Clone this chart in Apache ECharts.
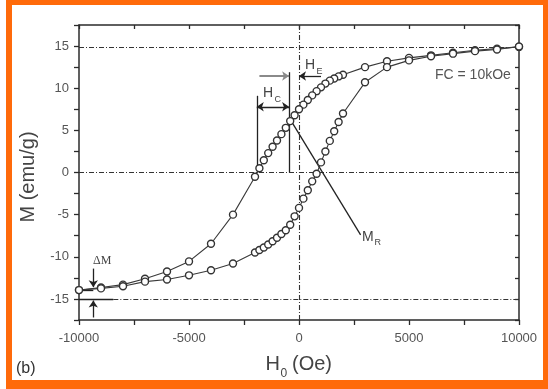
<!DOCTYPE html>
<html>
<head>
<meta charset="utf-8">
<script src="https://cdn.jsdelivr.net/npm/echarts@6/dist/echarts.min.js"></script>
<style>html,body{margin:0;padding:0;background:#fff;}#c{width:548px;height:389px;}</style>
</head>
<body>
<div id="c"></div>
<script>
// Descending branch (field swept from +10 kOe to -10 kOe)
const descH = [10000, 9000, 8000, 7000, 6000, 5000, 4000, 3000,
  2000, 1800, 1600, 1400, 1200, 1000, 800, 600, 400, 200, 0,
  -200, -400, -600, -800, -1000, -1200, -1400, -1600, -1800, -2000,
  -3000, -4000, -5000, -6000, -7000, -8000, -9000, -10000];
const descM = [14.9, 14.7, 14.5, 14.2, 13.9, 13.6, 13.2, 12.5,
  11.6, 11.4, 11.15, 10.9, 10.55, 10.1, 9.65, 9.15, 8.6, 8.05, 7.5,
  6.8, 6.1, 5.3, 4.55, 3.8, 3.05, 2.3, 1.45, 0.5, -0.5,
  -5.0, -8.45, -10.55, -11.75, -12.6, -13.3, -13.65, -13.95];
// Ascending branch (field swept from -10 kOe to +10 kOe)
const ascH = [-10000, -9000, -8000, -7000, -6000, -5000, -4000, -3000,
  -2000, -1800, -1600, -1400, -1200, -1000, -800, -600, -400, -200, 0,
  200, 400, 600, 800, 1000, 1200, 1400, 1600, 1800, 2000,
  3000, 4000, 5000, 6000, 7000, 8000, 9000, 10000];
const ascM = [-13.95, -13.75, -13.5, -12.95, -12.7, -12.2, -11.6, -10.8,
  -9.5, -9.2, -8.9, -8.55, -8.15, -7.75, -7.3, -6.85, -6.2, -5.2, -4.2,
  -3.1, -2.1, -1.05, -0.15, 1.2, 2.5, 3.75, 4.9, 6.0, 7.0,
  10.7, 12.5, 13.3, 13.8, 14.1, 14.4, 14.6, 14.95];

// Axis ticks
const xTicks = [-10000, -5000, 0, 5000, 10000];
const yTicks = [-15, -10, -5, 0, 5, 10, 15];

// Reference (dash-dot) lines
const refY = [14.85, 0];
const refX = [0];
const satLowY = -15;
const satLowSolidEnd = -8440;

// Annotation geometry (data space)
const hcLeftX = -1920, hcLeftTop = 9.1;
const hcRightX = -450, hcRightTop = 11.9;
const hcArrowY = 7.8;
const heArrowY = 11.45, heLeftStart = -1800, heRightStart = 1000, heRightEnd = 0;
const mrStart = [-400, 6.3], mrEnd = [2800, -7.4];
const dmX = -9350, dmTop = [-11.4, -13.6], dmBottom = [-17.2, -15.2], dmLineEnd = -9350, dmLineY = -13.95;

const chart = echarts.init(document.getElementById('c'), null, {renderer: 'canvas'});
const zip = (a, b) => a.map((v, i) => [v, b[i]]);
const FONT = 'Liberation Sans, Arial, sans-serif';
const AX = '#2b2b2b';
const dashDot = [5, 2, 1, 2];

const xMain = {
  type: 'value', min: -10000, max: 10000, interval: 2500, position: 'bottom',
  axisLine: {show: true, onZero: false, lineStyle: {color: AX, width: 1.5}},
  axisTick: {show: true, inside: false, length: 5, lineStyle: {color: AX, width: 1.3}},
  splitLine: {show: false},
  axisLabel: {margin: 12, color: '#555', fontFamily: FONT, fontSize: 13,
    formatter: v => xTicks.indexOf(v) >= 0 ? String(v) : ''}
};
const xTop = {
  type: 'value', min: -10000, max: 10000, interval: 2500, position: 'top',
  axisLine: {show: true, onZero: false, lineStyle: {color: AX, width: 1.5}},
  axisTick: {show: true, inside: true, length: 4, lineStyle: {color: AX, width: 1.3}},
  splitLine: {show: false}, axisLabel: {show: false}
};
const yMain = {
  type: 'value', min: -17.5, max: 17.5, interval: 2.5, position: 'left',
  axisLine: {show: true, onZero: false, lineStyle: {color: AX, width: 1.5}},
  axisTick: {show: true, inside: false, length: 5, lineStyle: {color: AX, width: 1.3}},
  splitLine: {show: false},
  axisLabel: {margin: 10, color: '#555', fontFamily: FONT, fontSize: 13,
    formatter: v => yTicks.indexOf(v) >= 0 ? String(v) : ''}
};
const yRight = {
  type: 'value', min: -17.5, max: 17.5, interval: 2.5, position: 'right',
  axisLine: {show: true, onZero: false, lineStyle: {color: AX, width: 1.5}},
  axisTick: {show: true, inside: true, length: 4, lineStyle: {color: AX, width: 1.3}},
  splitLine: {show: false}, axisLabel: {show: false}
};

const seg = (a, b, startSym, endSym) => [
  {coord: a, symbol: startSym || 'none'},
  {coord: b, symbol: endSym || 'none'}
];

const dataSeriesStyle = {
  type: 'line', xAxisIndex: 0, yAxisIndex: 0,
  symbol: 'circle', symbolSize: 7, showAllSymbol: true,
  itemStyle: {color: '#fff', borderColor: '#333', borderWidth: 1.4},
  lineStyle: {color: '#3a3a3a', width: 1.1},
  animation: false, z: 5
};

const option = {
  backgroundColor: '#fff',
  animation: false,
  grid: {left: 79, right: 29, top: 25, bottom: 69, containLabel: false},
  xAxis: [xMain, xTop],
  yAxis: [yMain, yRight],
  series: [
    // reference dash-dot lines
    {
      type: 'line', data: [], xAxisIndex: 0, yAxisIndex: 0, silent: true,
      markLine: {
        silent: true, symbol: 'none', label: {show: false}, animation: false,
        lineStyle: {color: '#333', width: 1.1, type: dashDot},
        data: [
          ...refY.map(v => ({yAxis: v})),
          ...refX.map(v => ({xAxis: v})),
          seg([satLowSolidEnd, satLowY], [10000, satLowY])
        ]
      }
    },
    // solid annotation lines
    {
      type: 'line', data: [], xAxisIndex: 0, yAxisIndex: 0, silent: true, z: 4,
      markLine: {
        silent: true, symbol: 'none', symbolSize: 7, label: {show: false}, animation: false,
        lineStyle: {color: '#222', width: 1.3, type: 'solid'},
        data: [
          seg([-10000, satLowY], [satLowSolidEnd, satLowY]),
          seg([-10000, dmLineY], [dmLineEnd, dmLineY]),
          seg([hcLeftX, 0], [hcLeftX, hcLeftTop]),
          seg([hcRightX, 0], [hcRightX, hcRightTop]),
          seg([hcLeftX, hcArrowY], [hcRightX, hcArrowY], 'arrow', 'arrow'),
          seg([heRightStart, heArrowY], [heRightEnd, heArrowY], 'none', 'arrow'),
          seg(mrStart, mrEnd),
          seg([dmX, dmTop[0]], [dmX, dmTop[1]], 'none', 'arrow'),
          seg([dmX, dmBottom[0]], [dmX, dmBottom[1]], 'none', 'arrow')
        ]
      }
    },
    {
      type: 'line', data: [], xAxisIndex: 0, yAxisIndex: 0, silent: true, z: 4,
      markLine: {
        silent: true, symbol: 'none', symbolSize: 7, label: {show: false}, animation: false,
        lineStyle: {color: '#8a8a8a', width: 2, type: 'solid'},
        data: [ seg([heLeftStart, heArrowY], [hcRightX, heArrowY], 'none', 'arrow') ]
      }
    },
    Object.assign({name: 'descending', data: zip(descH, descM)}, dataSeriesStyle),
    Object.assign({name: 'ascending', data: zip(ascH, ascM)}, dataSeriesStyle)
  ],
  graphic: [
    // orange frame
    {type: 'rect', shape: {x: 6, y: 0, width: 542, height: 5}, style: {fill: '#FF6A0A'}, silent: true},
    {type: 'rect', shape: {x: 6, y: 0, width: 6, height: 389}, style: {fill: '#FF6A0A'}, silent: true},
    {type: 'rect', shape: {x: 543, y: 0, width: 5, height: 389}, style: {fill: '#FF6A0A'}, silent: true},
    {type: 'rect', shape: {x: 6, y: 380, width: 542, height: 9}, style: {fill: '#FF6A0A'}, silent: true},
    // texts
    {type: 'text', x: 435, y: 75, style: {text: 'FC = 10kOe', font: '14px ' + FONT, fill: '#555', verticalAlign: 'middle', textVerticalAlign: 'middle'}},
    {type: 'text', x: 16, y: 369, style: {text: '(b)', font: '16px ' + FONT, fill: '#333', verticalAlign: 'middle', textVerticalAlign: 'middle'}},
    {type: 'text', x: 305, y: 65, style: {text: 'H', font: '14px ' + FONT, fill: '#444', verticalAlign: 'middle', textVerticalAlign: 'middle'}},
    {type: 'text', x: 316.5, y: 72, style: {text: 'E', font: '9px ' + FONT, fill: '#444', verticalAlign: 'middle', textVerticalAlign: 'middle'}},
    {type: 'text', x: 263, y: 93, style: {text: 'H', font: '14px ' + FONT, fill: '#444', verticalAlign: 'middle', textVerticalAlign: 'middle'}},
    {type: 'text', x: 274.5, y: 99.5, style: {text: 'C', font: '9px ' + FONT, fill: '#444', verticalAlign: 'middle', textVerticalAlign: 'middle'}},
    {type: 'text', x: 362, y: 237, style: {text: 'M', font: '14px ' + FONT, fill: '#444', verticalAlign: 'middle', textVerticalAlign: 'middle'}},
    {type: 'text', x: 374.5, y: 243, style: {text: 'R', font: '9px ' + FONT, fill: '#444', verticalAlign: 'middle', textVerticalAlign: 'middle'}},
    {type: 'text', x: 93, y: 261, style: {text: 'ΔM', font: '12px Liberation Serif, Times New Roman, serif', fill: '#444', verticalAlign: 'middle', textVerticalAlign: 'middle'}},
    // axis titles
    {type: 'text', x: 265.5, y: 364, style: {text: 'H', font: '20px ' + FONT, fill: '#444', verticalAlign: 'middle', textVerticalAlign: 'middle'}},
    {type: 'text', x: 280.5, y: 374, style: {text: '0', font: '12px ' + FONT, fill: '#444', verticalAlign: 'middle', textVerticalAlign: 'middle'}},
    {type: 'text', x: 292, y: 364, style: {text: '(Oe)', font: '20px ' + FONT, fill: '#444', verticalAlign: 'middle', textVerticalAlign: 'middle'}},
    {type: 'text', x: 28, y: 177, rotation: Math.PI / 2, style: {text: 'M (emu/g)', font: '20px ' + FONT, fill: '#444', align: 'center', textAlign: 'center', verticalAlign: 'middle', textVerticalAlign: 'middle'}}
  ]
};
chart.setOption(option);
</script>
</body>
</html>
